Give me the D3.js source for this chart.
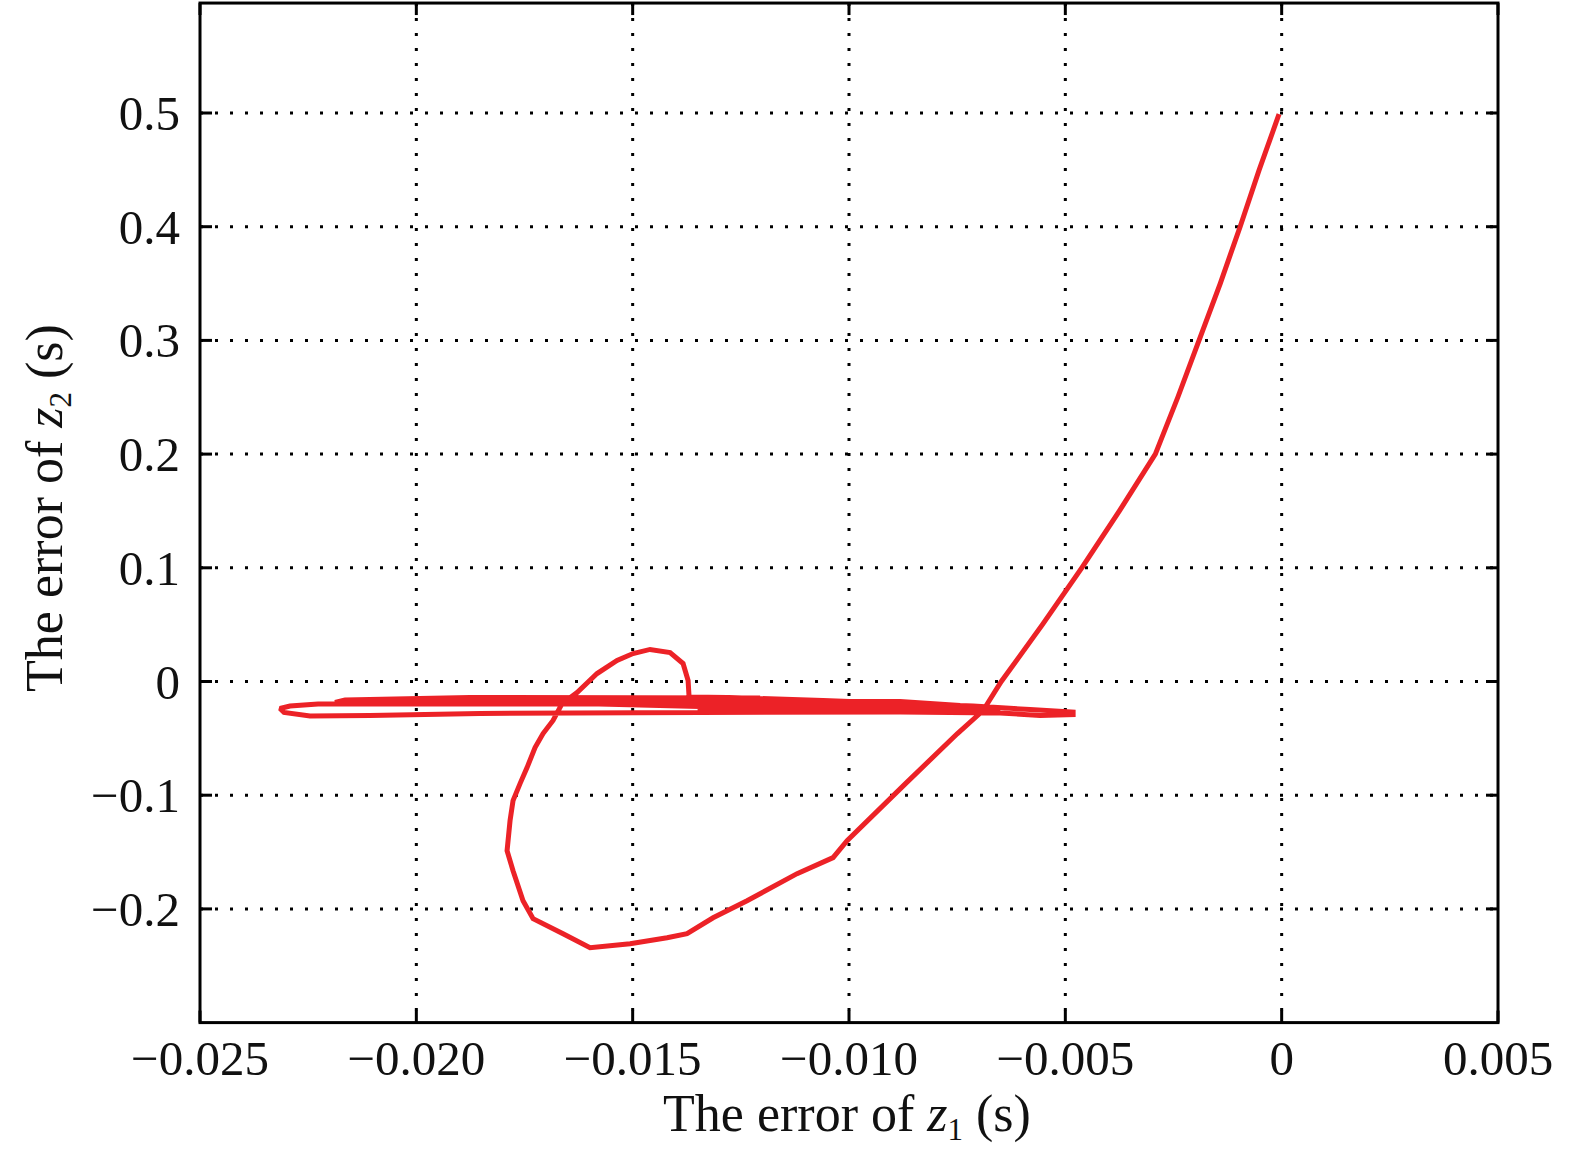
<!DOCTYPE html>
<html>
<head>
<meta charset="utf-8">
<script src="https://cdn.jsdelivr.net/npm/d3@7"></script>
<style>
  html, body { margin: 0; padding: 0; background: #fff; }
  svg { display: block; }
  text, tspan { font-family: "Liberation Serif", "Times New Roman", Times, serif; fill: #111; }
</style>
</head>
<body>
<svg id="chart" width="1575" height="1163"></svg>
<script>
// ---- data ----
const xTicks = [-0.025, -0.020, -0.015, -0.010, -0.005, 0, 0.005];
const xTickLabels = ["\u22120.025", "\u22120.020", "\u22120.015", "\u22120.010", "\u22120.005", "0", "0.005"];
const yTicks = [-0.2, -0.1, 0, 0.1, 0.2, 0.3, 0.4, 0.5];
const yTickLabels = ["\u22120.2", "\u22120.1", "0", "0.1", "0.2", "0.3", "0.4", "0.5"];

// error of z1 (x) along the trajectory
const errZ1 = [
  // transient
  -0.00008, -0.00052, -0.00096, -0.00142, -0.00191, -0.00240, -0.00292,
  -0.00375, -0.00462, -0.00553, -0.00648, -0.0069, -0.0075, -0.0087,
  -0.010044, -0.010368, -0.0112, -0.012356, -0.013141, -0.013743,
  -0.014205, -0.01506, -0.015985, -0.016609, -0.017302, -0.017534, -0.017765, -0.017903,
  -0.017834, -0.017765, -0.017603, -0.017441, -0.017256, -0.017071, -0.01684, -0.016632,
  -0.016285, -0.015823, -0.015361, -0.014991, -0.014598, -0.014135, -0.013835, -0.013719,
  -0.013696,
  // chattering band
  -0.012818, -0.010599, -0.008749, -0.007131, -0.005814, -0.004820,
  -0.004820, -0.005582, -0.006507, -0.008819, -0.013442, -0.018528, -0.021070, -0.022457, -0.023058,
  -0.023151, -0.022920, -0.022272, -0.015754, -0.007432,
  -0.008819, -0.013442, -0.021024, -0.021879,
  -0.021648, -0.018759, -0.012054,
  -0.012517, -0.016679, -0.020377,
  -0.013442, -0.006738, -0.006507, -0.013442
];
// error of z2 (y) along the trajectory
const errZ2 = [
  0.497, 0.45, 0.40, 0.35, 0.30, 0.25, 0.20,
  0.15, 0.10, 0.05, 0.0, -0.0255, -0.046, -0.090,
  -0.140, -0.1549, -0.169, -0.1928, -0.2078, -0.2218,
  -0.2254, -0.2306, -0.2342, -0.2218, -0.2086, -0.1928, -0.1664, -0.1488,
  -0.1224, -0.1048, -0.0898, -0.0757, -0.0581, -0.0458, -0.0343, -0.0194,
  -0.0097, 0.0070, 0.0185, 0.0246, 0.0282, 0.0255, 0.0158, 0.0009,
  -0.01363,
  -0.01407, -0.01671, -0.01935, -0.02155, -0.02463, -0.02682,
  -0.02902, -0.02990, -0.02770, -0.02682, -0.02726, -0.02814, -0.02990, -0.03034, -0.02726,
  -0.02375, -0.02155, -0.01979, -0.01979, -0.02111,
  -0.01759, -0.01715, -0.01715, -0.01847,
  -0.01627, -0.01407, -0.01451,
  -0.01583, -0.01583, -0.01539,
  -0.02199, -0.02331, -0.02507, -0.02463
];

// ---- layout ----
const svg = d3.select("#chart");
const x = d3.scaleLinear().domain([-0.025, 0.005]).range([200, 1498]);
const y = d3.scaleLinear().domain([-0.3, 0.6]).range([1022.6, -0.7]);
const yFrameTop = 0.5967;
const fontSize = 49;
const titleSize = 52;
const ink = "#111";

// grid (dotted)
const grid = svg.append("g");
grid.selectAll("line.vg").data(xTicks.slice(1, -1)).enter().append("line")
  .attr("x1", d => x(d)).attr("x2", d => x(d))
  .attr("y1", y(yFrameTop)).attr("y2", y(-0.3))
  .attr("stroke", "#000").attr("stroke-width", 3).attr("stroke-dasharray", "3 12");
grid.selectAll("line.hg").data(yTicks).enter().append("line")
  .attr("x1", x(-0.025)).attr("x2", x(0.005))
  .attr("y1", d => y(d)).attr("y2", d => y(d))
  .attr("stroke", "#000").attr("stroke-width", 3).attr("stroke-dasharray", "3 12");

// trajectory
const pts = errZ1.map((v, i) => [v, errZ2[i]]);
const line = d3.line().x(d => x(d[0])).y(d => y(d[1]));
svg.append("path").datum(pts)
  .attr("d", line)
  .attr("fill", "none")
  .attr("stroke", "#ec2227")
  .attr("stroke-width", 5)
  .attr("stroke-linejoin", "miter")
  .attr("stroke-miterlimit", 2)
  .attr("stroke-linecap", "square");

// frame
svg.append("rect")
  .attr("x", x(-0.025)).attr("y", y(yFrameTop))
  .attr("width", x(0.005) - x(-0.025)).attr("height", y(-0.3) - y(yFrameTop))
  .attr("fill", "none").attr("stroke", "#000").attr("stroke-width", 3);

// inward ticks on all sides
const tl = 12;
const ticks = svg.append("g").attr("stroke", "#000").attr("stroke-width", 3);
xTicks.forEach(t => {
  ticks.append("line").attr("x1", x(t)).attr("x2", x(t)).attr("y1", y(-0.3)).attr("y2", y(-0.3) - tl);
  ticks.append("line").attr("x1", x(t)).attr("x2", x(t)).attr("y1", y(yFrameTop)).attr("y2", y(yFrameTop) + tl);
});
yTicks.forEach(t => {
  ticks.append("line").attr("x1", x(-0.025)).attr("x2", x(-0.025) + tl).attr("y1", y(t)).attr("y2", y(t));
  ticks.append("line").attr("x1", x(0.005)).attr("x2", x(0.005) - tl).attr("y1", y(t)).attr("y2", y(t));
});

// x tick labels
svg.append("g").selectAll("text").data(xTicks).enter().append("text")
  .attr("x", d => x(d)).attr("y", 1075)
  .attr("text-anchor", "middle").attr("font-size", fontSize).attr("fill", ink)
  .text((d, i) => xTickLabels[i]);

// y tick labels
svg.append("g").selectAll("text").data(yTicks).enter().append("text")
  .attr("x", 180).attr("y", d => y(d) + 17)
  .attr("text-anchor", "end").attr("font-size", fontSize).attr("fill", ink)
  .text((d, i) => yTickLabels[i]);

// axis titles
function title(sel, sub) {
  sel.append("tspan").attr("fill", ink).text("The error of ");
  sel.append("tspan").attr("fill", ink).attr("font-style", "italic").text("z");
  sel.append("tspan").attr("fill", ink).attr("font-size", 31).attr("dy", 9).text(sub);
  sel.append("tspan").attr("fill", ink).attr("dy", -9).text(" (s)");
}
const xt = svg.append("text").attr("x", 847).attr("y", 1131)
  .attr("text-anchor", "middle").attr("font-size", titleSize).attr("fill", ink);
title(xt, "1");

const yt = svg.append("text")
  .attr("transform", "translate(62,508) rotate(-90)")
  .attr("text-anchor", "middle").attr("font-size", titleSize).attr("fill", ink);
title(yt, "2");
</script>
</body>
</html>
